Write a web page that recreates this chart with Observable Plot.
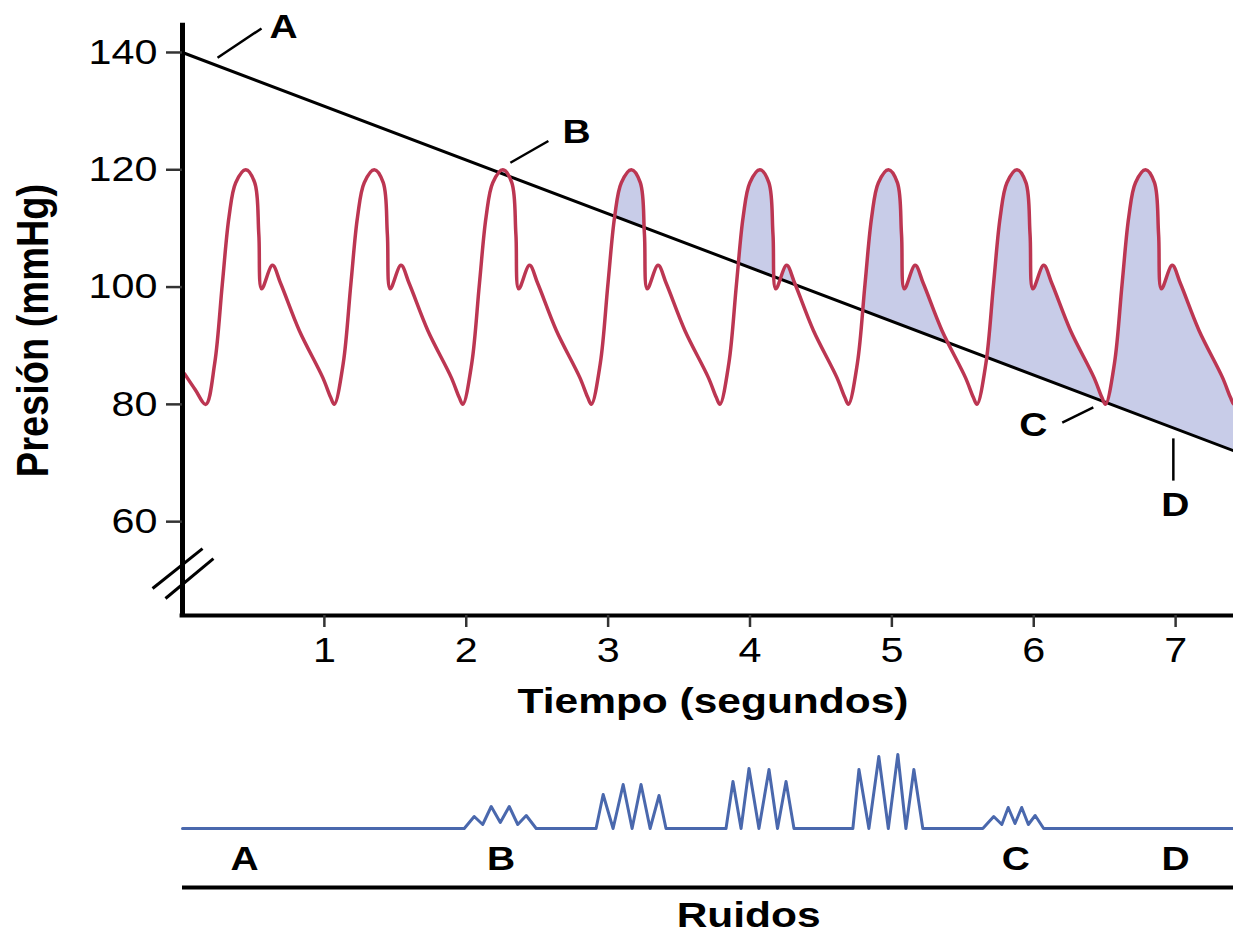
<!DOCTYPE html>
<html>
<head>
<meta charset="utf-8">
<script src="https://cdn.jsdelivr.net/npm/d3@7"></script>
<script src="https://cdn.jsdelivr.net/npm/@observablehq/plot@0.6"></script>
<style>
  html, body { margin: 0; padding: 0; background: #fff; overflow: hidden; }
  #chart svg { display: block; }
</style>
</head>
<body>
<div id="chart"></div>
<script>
// ---------------- data ----------------
// axis ticks
const xTicks = [1, 2, 3, 4, 5, 6, 7];
const yTicks = [60, 80, 100, 120, 140];

// arterial pressure: one beat (seconds after the diastolic minimum, mmHg)
const beatOffset   = [0, 0.063, 0.117, 0.164, 0.211, 0.282, 0.345, 0.374, 0.394, 0.470, 0.528, 0.659, 0.824, 0.880];
const beatPressure = [80, 87, 100.6, 112, 117.8, 120, 117.8, 109, 99.7, 103.7, 100.6, 92.6, 84.6, 81.2];
// times of the diastolic minima (s)
const beatStart = [0.164, 1.070, 1.976, 2.882, 3.788, 4.694, 5.600, 6.506, 7.412];
// tail of the beat before the first minimum
const leadInTime = [0.015, 0.090];
const leadInPressure = [85.2, 82.5];

// cuff pressure (straight decline)
const cuffTime = [0, 7.408];
const cuffPressure = [140, 72.1];

// Korotkoff sounds trace (s, amplitude)
const soundTime = [
  0,
  1.986, 2.056, 2.116, 2.176, 2.240, 2.303, 2.363, 2.423, 2.493,
  2.915, 2.965, 3.035, 3.106, 3.169, 3.232, 3.296, 3.359, 3.408,
  3.831, 3.880, 3.937, 3.993, 4.063, 4.134, 4.194, 4.254, 4.310,
  4.725, 4.768, 4.838, 4.908, 4.975, 5.042, 5.099, 5.155, 5.218,
  5.641, 5.718, 5.775, 5.820, 5.868, 5.915, 5.962, 6.010, 6.070,
  7.408
];
const soundAmp = [
  0,
  0, 12, 4, 22, 6, 22, 4, 13, 0,
  0, 34, 0, 44, 0, 44, 0, 33, 0,
  0, 47, 0, 60, 0, 59, 0, 47, 0,
  0, 59, 0, 72, 0, 74, 0, 59, 0,
  0, 12, 4, 21, 5, 21, 4, 13, 0,
  0
];

// letter annotations on the pressure chart
const markLetter   = ["A", "B", "C", "D"];
const markTime     = [0.712, 2.777, 5.997, 6.998];
const markPressure = [144.3, 126.35, 76.4, 62.76];
const leadT1 = [0.247, 2.311, 6.201, 6.984];
const leadP1 = [139.1, 121.2, 76.9, 74.2];
const leadT2 = [0.557, 2.579, 6.420, 6.984];
const leadP2 = [144.1, 124.9, 79.5, 67.0];
// letters under the sounds trace
const soundLetterTime = [0.437, 2.246, 5.873, 7.0];

// ---------------- build tables ----------------
const wave = [];
leadInTime.forEach((t, i) => wave.push({time: t, pressure: leadInPressure[i]}));
beatStart.forEach(s => beatOffset.forEach((o, i) => wave.push({time: s + o, pressure: beatPressure[i]})));
const cuff = cuffTime.map((t, i) => ({time: t, pressure: cuffPressure[i]}));
const sounds = soundTime.map((t, i) => ({time: t, amp: soundAmp[i]}));
const markRows = markLetter.map((l, i) => ({label: l, time: markTime[i], pressure: markPressure[i]}));
const leaders = markLetter.map((l, i) => ({t1: leadT1[i], p1: leadP1[i], t2: leadT2[i], p2: leadP2[i]}));
const soundLetters = markLetter.map((l, i) => ({label: l, time: soundLetterTime[i]}));
const breaks = [{t1: -0.211, p1: 48.6, t2: 0.141, p2: 55.4}, {t1: -0.120, p1: 46.9, t2: 0.218, p2: 53.7}];

const W = 1233;
const xDomain = [0, 7.408];
const yDomain = [44, 144.6];
const FONT = "Liberation Sans, Arial, sans-serif";
const RED = "#bc3652";
const FILL = "#c8cce8";
const BLUE = "#4a68ad";

const pressurePlot = Plot.plot({
  width: W, height: 740,
  marginLeft: 182, marginRight: 0, marginTop: 25, marginBottom: 125,
  x: {domain: xDomain},
  y: {domain: yDomain},
  style: {fontFamily: FONT, background: "white", color: "black"},
  marks: [
    Plot.areaY(wave, {x: "time", y1: yDomain[0], y2: "pressure", curve: "catmull-rom", fill: FILL, clip: true}),
    Plot.areaY(cuff, {x: "time", y1: yDomain[0], y2: "pressure", fill: "white"}),
    Plot.line(cuff, {x: "time", y: "pressure", stroke: "black", strokeWidth: 3}),
    Plot.line(wave, {x: "time", y: "pressure", curve: "catmull-rom", stroke: RED, strokeWidth: 3.5, clip: true}),
    Plot.ruleX([0], {y1: yDomain[0], y2: 145, stroke: "black", strokeWidth: 5}),
    Plot.ruleY([yDomain[0]], {x1: -0.017, x2: xDomain[1], stroke: "black", strokeWidth: 4}),
    Plot.link(breaks, {x1: "t1", y1: "p1", x2: "t2", y2: "p2", stroke: "black", strokeWidth: 3}),
    Plot.axisY(yTicks, {tickSize: 16, tickPadding: 9, fontSize: 35, label: null, tickFormat: d3.format("d"), stroke: "#333", strokeWidth: 2.5}),
    Plot.axisX(xTicks, {tickSize: 12, tickPadding: 10, fontSize: 35, label: null, tickFormat: d3.format("d"), stroke: "#333", strokeWidth: 2.5}),
    Plot.link(leaders, {x1: "t1", y1: "p1", x2: "t2", y2: "p2", stroke: "black", strokeWidth: 2.5}),
    Plot.text(markRows, {x: "time", y: "pressure", text: "label", fontSize: 33, fontWeight: "bold", fill: "black"}),
    Plot.text(["Tiempo (segundos)"], {frameAnchor: "bottom", textAnchor: "middle", lineAnchor: "middle", dx: 5, dy: 86, fontSize: 36, fontWeight: "bold", fill: "black"}),
    Plot.text(["Presión (mmHg)"], {frameAnchor: "left", textAnchor: "middle", lineAnchor: "middle", rotate: -90, dx: -149, dy: 10, fontSize: 38, fontWeight: "bold", fill: "black"})
  ]
});

const soundPlot = Plot.plot({
  width: W, height: 200,
  marginLeft: 182, marginRight: 0, marginTop: 0, marginBottom: 0,
  x: {domain: xDomain, axis: null},
  y: {domain: [-112, 88], axis: null},
  style: {fontFamily: FONT, background: "white", color: "black"},
  marks: [
    Plot.line(sounds, {x: "time", y: "amp", stroke: BLUE, strokeWidth: 3, strokeLinejoin: "round"}),
    Plot.ruleY([-59], {x1: 0, x2: xDomain[1], stroke: "black", strokeWidth: 4}),
    Plot.text(soundLetters, {x: "time", y: -31, text: "label", fontSize: 33, fontWeight: "bold", fill: "black"}),
    Plot.text(["Ruidos"], {x: 3.99, y: -87, fontSize: 36, fontWeight: "bold", fill: "black"})
  ]
});

// the source artwork is horizontally stretched; widen glyphs to match
function stretch(svg) {
  d3.select(svg).selectAll("text").each(function() {
    let t = this.getAttribute("transform");
    if (!t) {
      const x = +this.getAttribute("x") || 0, y = +this.getAttribute("y") || 0;
      this.removeAttribute("x"); this.removeAttribute("y");
      t = `translate(${x},${y})`;
    }
    const rotated = /rotate\(\s*-90/.test(t);
    this.setAttribute("transform", t + (rotated ? " scale(1,1.18)" : " scale(1.18,1)"));
  });
}
stretch(pressurePlot);
stretch(soundPlot);

const root = document.getElementById("chart");
root.appendChild(pressurePlot);
root.appendChild(soundPlot);
</script>
</body>
</html>
